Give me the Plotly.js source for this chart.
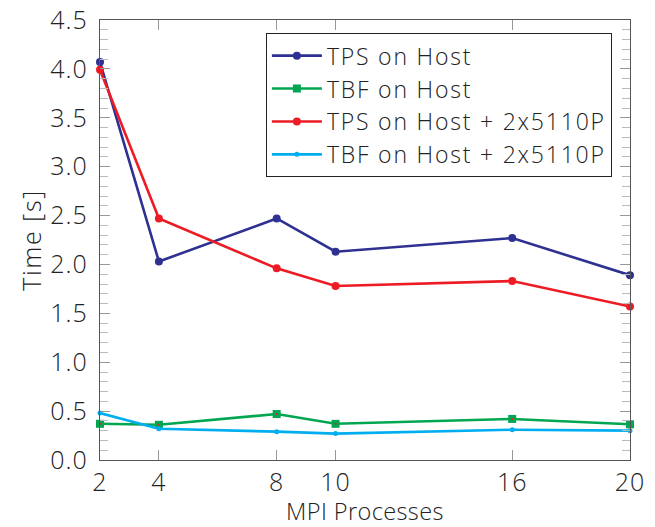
<!DOCTYPE html>
<html><head><meta charset="utf-8">
<script src="https://cdn.plot.ly/plotly-3.0.1.min.js"></script>
<style>
html,body{margin:0;padding:0;background:#fff}#chart{width:655px;height:527px}
.legendtext{letter-spacing:1.8px}
.ytitle{letter-spacing:1.6px}
.xtitle{letter-spacing:0.4px}
.xtick text,.ytick text{letter-spacing:1px}
</style>
</head><body><div id="chart"></div>
<script>
const procs = [2, 4, 8, 10, 16, 20];
const tpsHost = [4.07, 2.03, 2.47, 2.13, 2.27, 1.89];
const tbfHost = [0.37, 0.36, 0.47, 0.37, 0.42, 0.365];
const tpsHostPhi = [3.99, 2.47, 1.96, 1.78, 1.83, 1.57];
const tbfHostPhi = [0.48, 0.32, 0.29, 0.27, 0.31, 0.30];
const names = ['TPS on Host', 'TBF on Host', 'TPS on Host + 2x5110P', 'TBF on Host + 2x5110P'];
const xTicks = [2, 4, 8, 10, 16, 20];

const blue = '#2E3192', green = '#00A651', red = '#ED1C24', cyan = '#00AEEF';
const traces = [
  {x: procs, y: tpsHost, name: names[0], mode: 'lines+markers', cliponaxis: false, line: {color: blue, width: 2.6}, marker: {symbol: 'circle', size: 8, color: blue}},
  {x: procs, y: tbfHost, name: names[1], mode: 'lines+markers', cliponaxis: false, line: {color: green, width: 2.6}, marker: {symbol: 'square', size: 8, color: green}},
  {x: procs, y: tbfHost, showlegend: false, hoverinfo: 'skip', mode: 'markers', cliponaxis: false, marker: {symbol: 'circle', size: 2, color: red}},
  {x: procs, y: tpsHostPhi, name: names[2], mode: 'lines+markers', cliponaxis: false, line: {color: red, width: 2.6}, marker: {symbol: 'circle', size: 8, color: red}},
  {x: procs, y: tbfHostPhi, name: names[3], mode: 'lines+markers', cliponaxis: false, line: {color: cyan, width: 2.6}, marker: {symbol: 'circle', size: 5, color: cyan}}
];
const fontFam = '"Open Sans", "DejaVu Sans", sans-serif';
const layout = {
  width: 655, height: 527,
  margin: {l: 100, r: 25, t: 20, b: 67},
  paper_bgcolor: '#fff', plot_bgcolor: '#fff',
  font: {family: fontFam, size: 24, color: '#222', weight: 300},
  showlegend: true,
  legend: {x: 0.313, y: 0.97, xanchor: 'left', yanchor: 'top', bordercolor: '#222', borderwidth: 1, bgcolor: '#fff', itemwidth: 50, font: {size: 23, family: fontFam, color: '#222', weight: 300}, tracegroupgap: 0},
  xaxis: {
    range: [2, 20], tickmode: 'array', tickvals: xTicks, ticktext: xTicks.map(String),
    ticks: 'inside', ticklen: 10, tickcolor: '#999', tickwidth: 1,
    showline: true, linecolor: '#555', linewidth: 1.3, mirror: 'ticks',
    showgrid: false, zeroline: false,
    title: {text: 'MPI Processes', font: {size: 23.5, family: fontFam, weight: 300}, standoff: 10},
    tickfont: {size: 25, family: fontFam, weight: 300}
  },
  yaxis: {
    range: [0, 4.5], tickmode: 'linear', tick0: 0, dtick: 0.5, tickformat: '.1f',
    ticks: 'inside', ticklen: 10, tickcolor: '#999', tickwidth: 1,
    minor: {dtick: 0.1, ticks: 'inside', ticklen: 8, tickcolor: '#bbb', showgrid: false},
    showline: true, linecolor: '#555', linewidth: 1.3, mirror: 'ticks',
    showgrid: false, zeroline: false, ticklabelstandoff: 6,
    title: {text: 'Time [s]', font: {size: 25, family: fontFam, weight: 300}, standoff: 1},
    tickfont: {size: 25, family: fontFam, weight: 300}
  }
};
Plotly.newPlot('chart', traces, layout, {displayModeBar: false, staticPlot: true});
</script></body></html>
